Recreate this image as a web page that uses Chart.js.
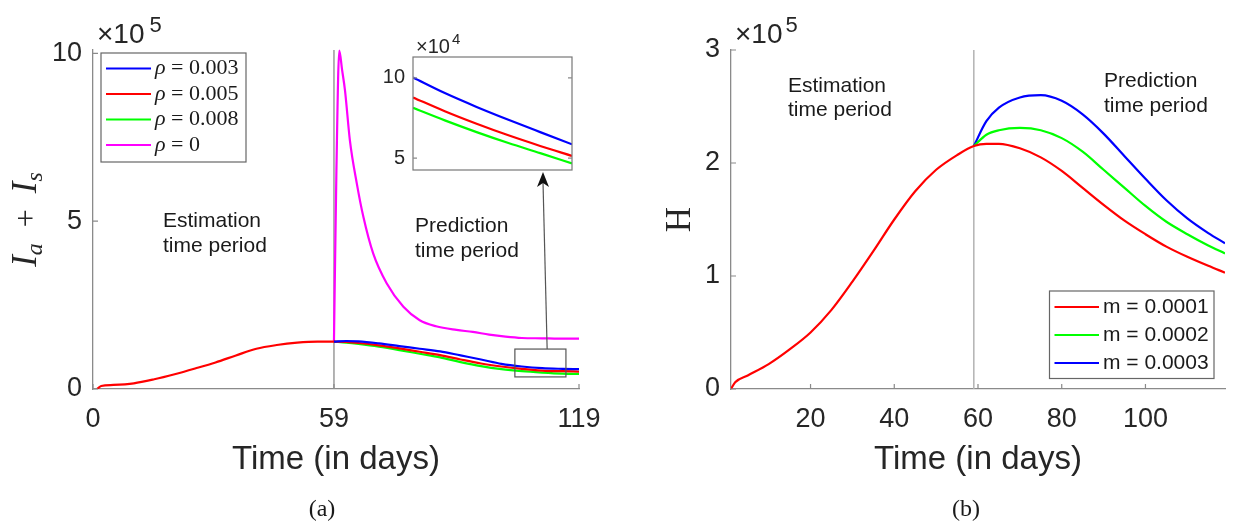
<!DOCTYPE html>
<html>
<head>
<meta charset="utf-8">
<script src="https://cdn.jsdelivr.net/npm/chart.js@4.4.1/dist/chart.umd.min.js"></script>
<style>
  html, body { margin: 0; padding: 0; background: #fff; }
  #wrap { position: relative; width: 1237px; height: 526px; overflow: hidden; background: #fff; }
  canvas { position: absolute; }
</style>
</head>
<body>
<div id="wrap">
  <canvas id="panelA" width="618" height="526" style="left:0;top:0"></canvas>
  <canvas id="panelB" width="619" height="526" style="left:618px;top:0"></canvas>
  <canvas id="inset" width="230" height="170" style="left:360px;top:20px"></canvas>
</div>
<script>
// --- Data (values in units of 10^5, inset in 10^4) ---

// Panel (a): I_a + I_s
const aXTicks = [0, 59, 119];
const aYTicks = [0, 5, 10];
const aEstDays = [1, 2, 5, 10, 15, 20, 25, 30, 35, 40, 45, 50, 55, 59];
const aEstI = [0, 0.09, 0.12, 0.17, 0.29, 0.44, 0.61, 0.79, 1.0, 1.2, 1.31, 1.38, 1.41, 1.41];
const aPredDays = [59, 62, 65, 70, 75, 80, 85, 90, 95, 100, 105, 110, 115, 119];
const aBlue = [1.41, 1.43, 1.42, 1.36, 1.28, 1.2, 1.12, 1.0, 0.88, 0.75, 0.67, 0.62, 0.6, 0.59];
const aRed = [1.41, 1.4, 1.37, 1.3, 1.21, 1.11, 1.01, 0.88, 0.76, 0.67, 0.6, 0.55, 0.53, 0.52];
const aGreen = [1.41, 1.38, 1.34, 1.26, 1.16, 1.05, 0.94, 0.8, 0.68, 0.59, 0.53, 0.49, 0.46, 0.45];
const aZeroDays = [59, 59.6, 60.3, 61, 61.7, 62.9, 64.6, 66.2, 68.6, 71.9, 76, 80, 84, 89, 93, 97, 101, 105, 110, 114, 119];
const aZero = [1.41, 6.5, 10.08, 9.5, 8.9, 7.41, 6.12, 5.13, 4.04, 3.15, 2.45, 2.05, 1.87, 1.76, 1.7, 1.62, 1.56, 1.52, 1.51, 1.5, 1.5];
const aLabels = ['ρ = 0.003', 'ρ = 0.005', 'ρ = 0.008', 'ρ = 0'];
const zoomBoxDays = [103.3, 115.8];
const zoomBoxVals = [0.36, 1.19];
const arrowDay = 111.2;

// Inset of panel (a)
const insetYTicks = [5, 10];
const insetDays = [104, 107, 110, 113, 116, 119];
const insetBlue = [10.02, 9.05, 8.19, 7.39, 6.62, 5.86];
const insetRed = [8.78, 7.92, 7.14, 6.42, 5.76, 5.14];
const insetGreen = [8.13, 7.35, 6.62, 5.94, 5.31, 4.67];

// Panel (b): H
const bXTicks = [20, 40, 60, 80, 100];
const bYTicks = [0, 1, 2, 3];
const bEstDays = [1, 2, 5, 10, 15, 20, 25, 30, 35, 40, 45, 50, 55, 59];
const bEst = [0, 0.06, 0.12, 0.22, 0.35, 0.5, 0.7, 0.95, 1.22, 1.5, 1.75, 1.94, 2.07, 2.15];
const bPredDays = [59, 62, 65, 70, 75, 80, 85, 90, 95, 100, 105, 110, 115, 119];
const bRed = [2.15, 2.17, 2.17, 2.13, 2.05, 1.93, 1.78, 1.63, 1.49, 1.37, 1.26, 1.17, 1.09, 1.03];
const bGreen = [2.15, 2.25, 2.29, 2.31, 2.29, 2.22, 2.1, 1.94, 1.78, 1.62, 1.48, 1.37, 1.27, 1.2];
const bBlue = [2.15, 2.37, 2.49, 2.58, 2.6, 2.55, 2.43, 2.26, 2.06, 1.86, 1.67, 1.51, 1.38, 1.29];
const bLabels = ['m = 0.0001', 'm = 0.0002', 'm = 0.0003'];

const splitDay = 59;

// --- Styling ---
const SANS = '"Liberation Sans", Arial, Helvetica, sans-serif';
const SERIF = '"Liberation Serif", "DejaVu Serif", serif';
const TEXT = '#262626';
const AXIS = '#8a8a8a';
const RED = '#ff0000', BLUE = '#0000ff', GREEN = '#00ff00', MAGENTA = '#ff00ff';

const pts = (xs, ys) => xs.map((x, i) => ({ x: x, y: ys[i] }));

function xAxis(min, max, tickVals, fitHeight) {
    return {
        type: 'linear', min: min, max: max,
        afterBuildTicks: s => { s.ticks = tickVals.map(v => ({ value: v })); },
        afterFit: s => { s.height = fitHeight; },
        grid: { display: false, drawTicks: false },
        border: { display: true, color: AXIS, width: 1.3 },
        ticks: { font: { family: SANS, size: 27 }, color: TEXT, padding: 14, maxRotation: 0, autoSkip: false },
        title: { display: true, text: 'Time (in days)', color: TEXT,
                 font: { family: SANS, size: 33 }, padding: { top: 0, bottom: 46 } }
    };
}

function yAxis(min, max, tickVals, fitWidth, fontSize, pad, showBorder) {
    return {
        type: 'linear', min: min, max: max,
        afterBuildTicks: s => { s.ticks = tickVals.map(v => ({ value: v })); },
        afterFit: s => { s.width = fitWidth; },
        grid: { display: false, drawTicks: false },
        border: { display: showBorder, color: AXIS, width: 1.3 },
        ticks: { font: { family: SANS, size: fontSize }, color: TEXT, padding: pad, autoSkip: false }
    };
}

// MATLAB-like ticks pointing into the axes
function innerTicks(chart, len, mirror) {
    const { ctx, chartArea: a, scales } = chart;
    ctx.save();
    ctx.strokeStyle = AXIS;
    ctx.lineWidth = 1.2;
    ctx.beginPath();
    if (scales.x.options.display) {
        scales.x.ticks.forEach(t => {
            const px = scales.x.getPixelForValue(t.value);
            ctx.moveTo(px, a.bottom); ctx.lineTo(px, a.bottom - len);
        });
    }
    scales.y.ticks.forEach(t => {
        const py = scales.y.getPixelForValue(t.value);
        ctx.moveTo(a.left, py); ctx.lineTo(a.left + len, py);
        if (mirror) { ctx.moveTo(a.right, py); ctx.lineTo(a.right - len, py); }
    });
    ctx.stroke();
    ctx.restore();
}

function splitLine(chart, color) {
    const { ctx, chartArea: a, scales: { x } } = chart;
    const px = x.getPixelForValue(splitDay);
    ctx.save();
    ctx.strokeStyle = color;
    ctx.lineWidth = 1.5;
    ctx.beginPath();
    ctx.moveTo(px, a.bottom); ctx.lineTo(px, a.top);
    ctx.stroke();
    ctx.restore();
}

function textLines(ctx, lines, x, y0, step, font) {
    ctx.save();
    ctx.font = font;
    ctx.fillStyle = '#1a1a1a';
    ctx.textBaseline = 'alphabetic';
    ctx.textAlign = 'left';
    lines.forEach((l, i) => ctx.fillText(l, x, y0 + i * step));
    ctx.restore();
}

function exponent(ctx, x, y, base, exp, size, supSize, supRise, gap) {
    ctx.save();
    ctx.fillStyle = TEXT;
    ctx.textBaseline = 'alphabetic';
    ctx.font = size + 'px ' + SANS;
    ctx.fillText(base, x, y);
    const w = ctx.measureText(base).width;
    ctx.font = supSize + 'px ' + SANS;
    ctx.fillText(exp, x + w + gap, y - supRise);
    ctx.restore();
}

function mathLabel(ctx, parts, cx, cy) {
    ctx.save();
    ctx.translate(cx, cy);
    ctx.rotate(-Math.PI / 2);
    ctx.fillStyle = TEXT;
    ctx.textBaseline = 'alphabetic';
    let total = 0;
    parts.forEach(p => { ctx.font = p.font; p.w = ctx.measureText(p.t).width; total += p.w; });
    let x = -total / 2;
    parts.forEach(p => { ctx.font = p.font; ctx.fillText(p.t, x, p.dy || 0); x += p.w; });
    ctx.restore();
}

function legendBox(ctx, chart, order, box, lineX, textX, y0, step, serifMath, fontSize) {
    ctx.save();
    ctx.fillStyle = '#fff';
    ctx.fillRect(box[0], box[1], box[2] - box[0], box[3] - box[1]);
    ctx.strokeStyle = '#666';
    ctx.lineWidth = 1.2;
    ctx.strokeRect(box[0], box[1], box[2] - box[0], box[3] - box[1]);
    ctx.textBaseline = 'middle';
    order.forEach((di, i) => {
        const ds = chart.data.datasets[di];
        const y = y0 + i * step;
        ctx.strokeStyle = ds.borderColor;
        ctx.lineWidth = 2.2;
        ctx.beginPath(); ctx.moveTo(lineX[0], y); ctx.lineTo(lineX[1], y); ctx.stroke();
        ctx.fillStyle = '#1a1a1a';
        if (serifMath) {
            ctx.font = 'italic ' + fontSize + 'px ' + SERIF;
            ctx.fillText(ds.label[0], textX, y);
            const w = ctx.measureText(ds.label[0]).width;
            ctx.font = fontSize + 'px ' + SERIF;
            ctx.fillText(ds.label.slice(1), textX + w, y);
        } else {
            ctx.font = fontSize + 'px ' + SANS;
            ctx.fillText(ds.label, textX, y);
        }
    });
    ctx.restore();
}

function caption(ctx, text, x, y) {
    ctx.save();
    ctx.font = '24px ' + SERIF;
    ctx.fillStyle = '#1a1a1a';
    ctx.textAlign = 'center';
    ctx.textBaseline = 'alphabetic';
    ctx.fillText(text, x, y);
    ctx.restore();
}

const common = {
    responsive: false,
    animation: false,
    devicePixelRatio: 1,
    events: [],
    plugins: { legend: { display: false }, tooltip: { enabled: false } },
    elements: { point: { radius: 0 }, line: { borderWidth: 2.2, cubicInterpolationMode: 'monotone' } }
};

// --- Panel (a) ---
const panelAPlugin = {
    id: 'panelA',
    beforeDatasetsDraw(chart) {
        splitLine(chart, '#9a9a9a');
    },
    afterDraw(chart) {
        const { ctx, scales: { x, y } } = chart;
        innerTicks(chart, 5, false);

        // zoom rectangle + arrow to the inset
        const bx0 = x.getPixelForValue(zoomBoxDays[0]), bx1 = x.getPixelForValue(zoomBoxDays[1]);
        const by0 = y.getPixelForValue(zoomBoxVals[1]), by1 = y.getPixelForValue(zoomBoxVals[0]);
        ctx.save();
        ctx.strokeStyle = '#555';
        ctx.lineWidth = 1.2;
        ctx.strokeRect(bx0, by0, bx1 - bx0, by1 - by0);
        const ax = x.getPixelForValue(arrowDay);
        const tipX = 543, tipY = 172;
        ctx.beginPath(); ctx.moveTo(ax, by0); ctx.lineTo(tipX, tipY + 10); ctx.stroke();
        ctx.fillStyle = '#111';
        ctx.beginPath();
        ctx.moveTo(tipX, tipY);
        ctx.lineTo(tipX - 6, tipY + 15);
        ctx.lineTo(tipX, tipY + 11);
        ctx.lineTo(tipX + 6, tipY + 15);
        ctx.closePath(); ctx.fill();
        ctx.restore();

        legendBox(ctx, chart, [0, 1, 2, 3], [101, 53, 246, 162], [106, 151], 155, 68.5, 25.5, true, 22);

        exponent(ctx, 97, 43, '×10', '5', 28, 22, 11, 5);
        textLines(ctx, ['Estimation', 'time period'], 163, 227, 25, '21px ' + SANS);
        textLines(ctx, ['Prediction', 'time period'], 415, 232, 24.5, '21px ' + SANS);

        const mFont = 'italic 35px ' + SERIF, sFont = 'italic 24px ' + SERIF;
        mathLabel(ctx, [
            { t: 'I', font: mFont }, { t: 'a', font: sFont, dy: 6 },
            { t: '  +  ', font: '32px ' + SERIF },
            { t: 'I', font: mFont }, { t: 's', font: sFont, dy: 6 }
        ], 36, 219.5);

        caption(ctx, '(a)', 322, 516);
    }
};

new Chart(document.getElementById('panelA'), {
    type: 'line',
    data: {
        datasets: [
            { label: aLabels[0], data: pts(aPredDays, aBlue), borderColor: BLUE },
            { label: aLabels[1], data: pts(aEstDays.concat(aPredDays.slice(1)), aEstI.concat(aRed.slice(1))), borderColor: RED },
            { label: aLabels[2], data: pts(aPredDays, aGreen), borderColor: GREEN },
            { label: aLabels[3], data: pts(aZeroDays, aZero), borderColor: MAGENTA, clip: false }
        ]
    },
    options: Object.assign({}, common, {
        layout: { padding: { left: 0, right: 39, top: 50, bottom: 0 }, autoPadding: false },
        scales: {
            x: xAxis(0, 119, aXTicks, 137),
            y: yAxis(0, 10.1, aYTicks, 93, 27, 11, true)
        }
    }),
    plugins: [panelAPlugin]
});

// --- Inset ---
const insetPlugin = {
    id: 'inset',
    beforeDatasetsDraw(chart) {
        const { ctx, chartArea: a } = chart;
        ctx.save(); ctx.fillStyle = '#fff';
        ctx.fillRect(a.left, a.top, a.right - a.left, a.bottom - a.top);
        ctx.restore();
    },
    afterDraw(chart) {
        const { ctx, chartArea: a } = chart;
        ctx.save();
        ctx.strokeStyle = '#777';
        ctx.lineWidth = 1.2;
        ctx.strokeRect(a.left, a.top, a.right - a.left, a.bottom - a.top);
        ctx.restore();
        innerTicks(chart, 4, true);
        exponent(ctx, 56, 33, '×10', '4', 20, 15, 9, 2);
    }
};

new Chart(document.getElementById('inset'), {
    type: 'line',
    data: {
        datasets: [
            { data: pts(insetDays, insetBlue), borderColor: BLUE },
            { data: pts(insetDays, insetRed), borderColor: RED },
            { data: pts(insetDays, insetGreen), borderColor: GREEN }
        ]
    },
    options: Object.assign({}, common, {
        layout: { padding: { left: 0, right: 18, top: 37, bottom: 19 }, autoPadding: false },
        scales: {
            x: { type: 'linear', min: 104, max: 119, display: false },
            y: yAxis(4.26, 11.3, insetYTicks, 53, 20, 8, false)
        }
    }),
    plugins: [insetPlugin]
});

// --- Panel (b) ---
const panelBPlugin = {
    id: 'panelB',
    beforeDatasetsDraw(chart) {
        splitLine(chart, '#b3b3b3');
    },
    afterDraw(chart) {
        const { ctx } = chart;
        innerTicks(chart, 5, false);
        legendBox(ctx, chart, [0, 1, 2], [431.5, 291, 596, 378.5], [436.5, 481], 485, 307, 28, false, 21);
        exponent(ctx, 117, 43, '×10', '5', 28, 22, 11, 3);
        textLines(ctx, ['Estimation', 'time period'], 170, 91.7, 24.5, '21px ' + SANS);
        textLines(ctx, ['Prediction', 'time period'], 486, 86.7, 25, '21px ' + SANS);
        mathLabel(ctx, [{ t: 'H', font: '35px ' + SERIF }], 72, 219.5);
        caption(ctx, '(b)', 348, 516);
    }
};

new Chart(document.getElementById('panelB'), {
    type: 'line',
    data: {
        datasets: [
            { label: bLabels[0], data: pts(bEstDays.concat(bPredDays.slice(1)), bEst.concat(bRed.slice(1))), borderColor: RED },
            { label: bLabels[1], data: pts(bPredDays, bGreen), borderColor: GREEN },
            { label: bLabels[2], data: pts(bPredDays, bBlue), borderColor: BLUE }
        ]
    },
    options: Object.assign({}, common, {
        layout: { padding: { left: 0, right: 12, top: 50, bottom: 0 }, autoPadding: false },
        scales: {
            x: xAxis(1, 119, bXTicks, 137),
            y: yAxis(0, 3, bYTicks, 113, 27, 11, true)
        }
    }),
    plugins: [panelBPlugin]
});
</script>
</body>
</html>
